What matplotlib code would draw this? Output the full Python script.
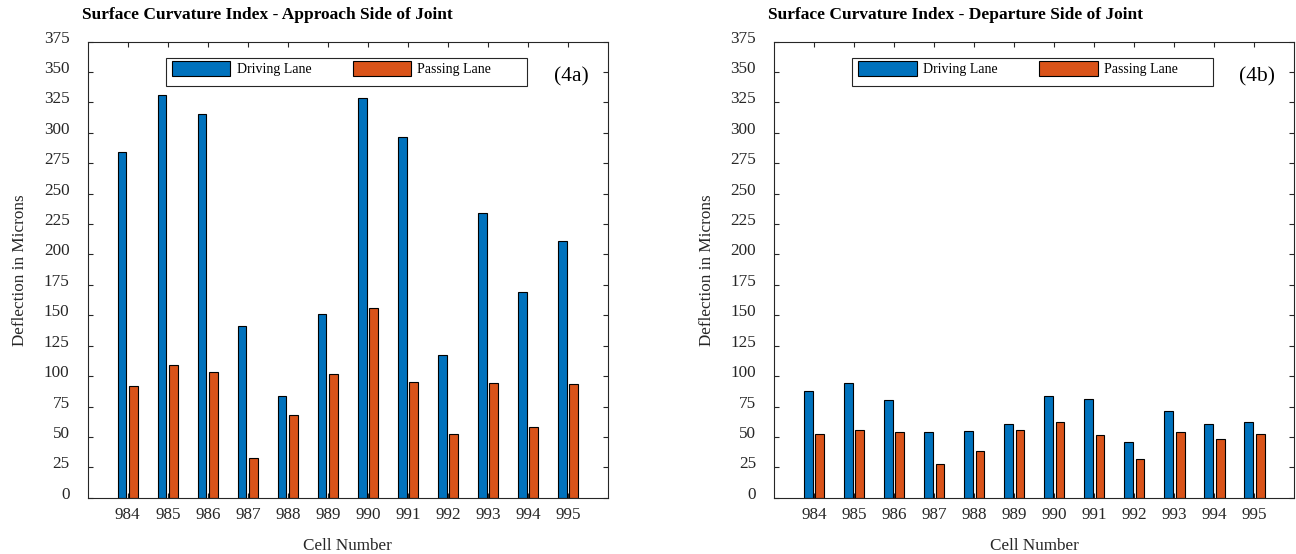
import matplotlib
matplotlib.use("Agg")
import matplotlib.pyplot as plt
from matplotlib.patches import Rectangle
from matplotlib.transforms import ScaledTranslation

# Cell numbers along the x axis
cells = [984, 985, 986, 987, 988, 989, 990, 991, 992, 993, 994, 995]

# Surface curvature index (deflection in microns), approach side of joint
approach_driving = [284.5, 331.5, 315.5, 141, 84, 151, 328.5, 296.5, 117, 234, 169, 211]
approach_passing = [92, 109, 103.5, 33, 68, 102, 156, 95.5, 52.5, 94, 58, 93.5]

# Surface curvature index (deflection in microns), departure side of joint
departure_driving = [88, 94.5, 80.5, 54, 54.5, 60.5, 84, 81.5, 46, 71.5, 61, 62.5]
departure_passing = [52, 55.5, 54, 27.5, 38, 56, 62.5, 51.5, 31.5, 54, 48, 52.5]

y_ticks = list(range(0, 376, 25))

titles = ["Surface Curvature Index - Approach Side of Joint",
          "Surface Curvature Index - Departure Side of Joint"]
panel_tags = ["(4a)", "(4b)"]
series_labels = ["Driving Lane", "Passing Lane"]

BLUE = "#0072BD"
ORANGE = "#D95319"
AXCOL = "#262626"

plt.rcParams["font.family"] = ["Liberation Serif", "DejaVu Serif"]

W, H, DPI = 1296, 554, 100
fig = plt.figure(figsize=(W / DPI, H / DPI), dpi=DPI)

ax_w = 520.4 / W
ax_h = 456 / H
ax_bottom = (H - 497.7) / H
lefts_px = [87.7, 774.0]

datasets = [(approach_driving, approach_passing),
            (departure_driving, departure_passing)]

bar_w = 0.22
offset = 0.145

for i, (left_px, (drv, pas)) in enumerate(zip(lefts_px, datasets)):
    ax = fig.add_axes([left_px / W, ax_bottom, ax_w, ax_h])
    xs = cells
    b1 = ax.bar([x - offset for x in xs], drv, width=bar_w, color=BLUE,
                edgecolor="black", linewidth=0.8, label=series_labels[0], zorder=2)
    b2 = ax.bar([x + offset for x in xs], pas, width=bar_w, color=ORANGE,
                edgecolor="black", linewidth=0.8, label=series_labels[1], zorder=2)

    ax.set_xlim(983, 996)
    ax.set_ylim(0, 375)
    ax.set_xticks(cells)
    ax.set_xticklabels([str(c) for c in cells])
    ax.set_yticks(y_ticks)
    ax.set_yticklabels([str(t) for t in y_ticks])

    for sp in ax.spines.values():
        sp.set_color(AXCOL)
        sp.set_linewidth(0.8)

    ax.tick_params(axis="both", which="major", direction="in", length=3.8,
                   width=0.8, color=AXCOL, labelsize=12.3, labelcolor="#262626",
                   top=True, right=True)
    ax.tick_params(axis="y", pad=13)
    ax.tick_params(axis="x", pad=7)

    # y tick labels sit slightly above their tick marks
    shift = ScaledTranslation(0, 5 / DPI, fig.dpi_scale_trans)
    for lab in ax.get_yticklabels():
        lab.set_transform(lab.get_transform() + shift)

    ax.set_xlabel("Cell Number", fontsize=12.3, color="#262626")
    ax.xaxis.set_label_coords(0.5, -0.088)
    ax.set_ylabel("Deflection in Microns", fontsize=12.3, color="#262626")
    ax.yaxis.set_label_coords(-0.114, 0.5)

    # Legend box and entries
    lx0 = (166 - 87.7) / 520.4
    lx1 = (527 - 87.7) / 520.4
    ly0 = (497.7 - 86) / 456
    ly1 = (497.7 - 58) / 456
    ax.add_patch(Rectangle((lx0, ly0), lx1 - lx0, ly1 - ly0, transform=ax.transAxes,
                           facecolor="white", edgecolor=AXCOL, linewidth=0.8, zorder=5))
    ax.legend(handles=[b1, b2], labels=series_labels, loc="upper left",
              bbox_to_anchor=((172 - 87.7) / 520.4, (497.7 - 61) / 456),
              frameon=False, ncol=2, fontsize=10, borderpad=0, borderaxespad=0,
              handlelength=4.2, handleheight=1.3, handletextpad=0.45,
              columnspacing=3.0).set_zorder(6)

    ax.text((571 - 87.7) / 520.4, (497.7 - 77) / 456, panel_tags[i],
            transform=ax.transAxes, fontsize=15.5, ha="center", va="center",
            color="black", zorder=7)

    fig.text((left_px - 6) / W, 1 - 15 / H, titles[i], fontsize=12.5,
             fontweight="bold", ha="left", va="center", color="black")

fig.savefig("out.png", dpi=DPI, facecolor="white")
